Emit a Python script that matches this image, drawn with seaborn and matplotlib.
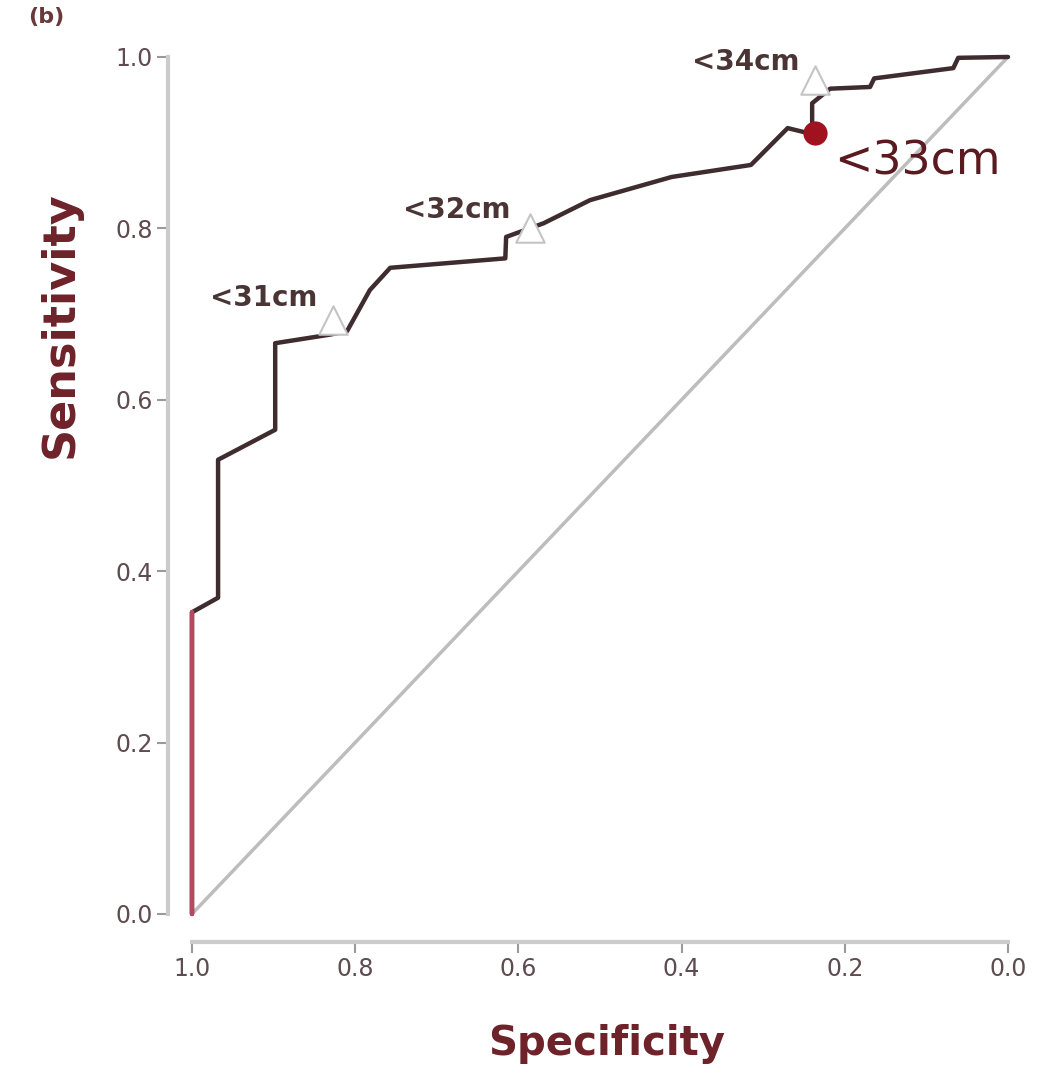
import matplotlib
matplotlib.use("Agg")
import matplotlib.pyplot as plt
import seaborn as sns
import pandas as pd

# ROC curve points (specificity, sensitivity)
specificity = [1.0, 1.0, 0.968, 0.968, 0.898, 0.898, 0.831, 0.81, 0.782, 0.757,
               0.616, 0.615, 0.569, 0.512, 0.412, 0.315, 0.27, 0.24, 0.24, 0.218,
               0.169, 0.164, 0.067, 0.061, 0.0]
sensitivity = [0.0, 0.352, 0.369, 0.53, 0.565, 0.666, 0.676, 0.68, 0.728, 0.754,
               0.765, 0.79, 0.806, 0.833, 0.86, 0.874, 0.917, 0.91, 0.946, 0.963,
               0.965, 0.975, 0.987, 0.999, 1.0]

# threshold markers
cut_labels = ["<31cm", "<32cm", "<33cm", "<34cm"]
cut_spec = [0.827, 0.586, 0.237, 0.237]
cut_sens = [0.693, 0.80, 0.911, 0.973]
best_cut = "<33cm"

ticks = [0.0, 0.2, 0.4, 0.6, 0.8, 1.0]
tick_labels = ["0.0", "0.2", "0.4", "0.6", "0.8", "1.0"]

sns.set_style("ticks")
plt.rcParams['font.family'] = ['DejaVu Sans']

roc = pd.DataFrame({"spec": specificity, "sens": sensitivity})
cuts = pd.DataFrame({"label": cut_labels, "spec": cut_spec, "sens": cut_sens})

fig = plt.figure(figsize=(10.42, 10.82), dpi=100)
ax = fig.add_axes([0.1612, 0.1294, 0.8273, 0.8429])

# chance line
sns.lineplot(x=[1.0, 0.0], y=[0.0, 1.0], ax=ax, color="#bdbdbd", linewidth=2.5, sort=False)

# ROC curve, first vertical run drawn red
sns.lineplot(data=roc, x="spec", y="sens", ax=ax, color="#3f2c2e", linewidth=3.2,
             sort=False, estimator=None)
sns.lineplot(data=roc.iloc[:2], x="spec", y="sens", ax=ax, color="#b5475f",
             linewidth=3.2, sort=False, estimator=None)

# threshold triangles and best point
other = cuts[cuts["label"] != best_cut]
best = cuts[cuts["label"] == best_cut]
sns.scatterplot(data=other, x="spec", y="sens", ax=ax, marker="^", s=420,
                facecolor="white", edgecolor="#c4c4c4", linewidth=1.5, zorder=5)
sns.scatterplot(data=best, x="spec", y="sens", ax=ax, marker="o", s=260,
                color="#a1121f", edgecolor="#a1121f", zorder=6)

offsets = {"<31cm": (-11, 16), "<32cm": (-14, 13), "<34cm": (-11, 13)}
for lab, xs, ys in zip(cut_labels, cut_spec, cut_sens):
    if lab == best_cut:
        ax.annotate(lab, (xs, ys), xytext=(14, -21), textcoords="offset points",
                    ha="left", va="center", fontsize=33, color="#5a1a20")
    else:
        ax.annotate(lab, (xs, ys), xytext=offsets[lab], textcoords="offset points",
                    ha="right", va="center", fontsize=20, fontweight="bold",
                    color="#4a3434")

ax.set_xlim(1.0294, -0.027)
ax.set_ylim(-0.0327, 1.0315)

ax.set_xticks(ticks)
ax.set_xticklabels(tick_labels)
ax.set_yticks(ticks)
ax.set_yticklabels(tick_labels)
ax.tick_params(axis="both", labelsize=17, labelcolor="#5f4c4e", color="#9a9a9a",
               length=8, width=1.5, direction="out", pad=3)

for side in ["top", "right"]:
    ax.spines[side].set_visible(False)
for side in ["left", "bottom"]:
    ax.spines[side].set_color("#cccccc")
    ax.spines[side].set_linewidth(3)
    ax.spines[side].set_bounds(0, 1)

ax.set_xlabel("Specificity", fontsize=29, fontweight="bold", color="#6e2229")
ax.set_ylabel("Sensitivity", fontsize=32, fontweight="bold", color="#6e2229")
ax.xaxis.set_label_coords(0.509, -0.09)
ax.yaxis.set_label_coords(-0.10, 0.6765)

fig.text(0.027, 0.984, "(b)", fontsize=16, fontweight="bold", color="#6a3a3a",
         ha="left", va="center")

fig.savefig("out.png", dpi=100)
